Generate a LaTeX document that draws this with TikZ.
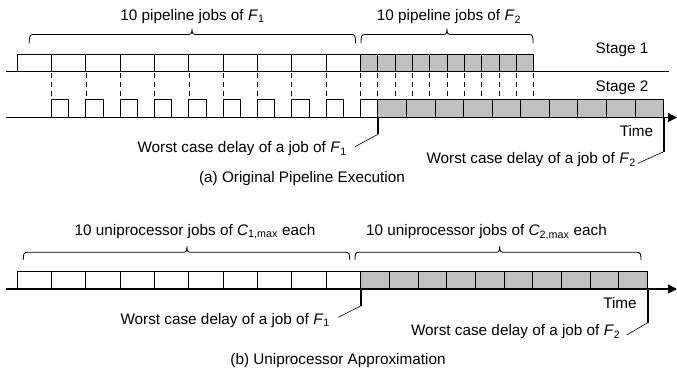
\documentclass[tikz,border=0pt]{standalone}
\usepackage{fontspec}
\setmainfont{Liberation Sans}
\usetikzlibrary{arrows.meta}
\definecolor{jobgray}{RGB}{192,192,192}

% curly brace: left end, middle, right end, tip y, line y, cusp y
\newcommand\jobbrace[6]{%
  \draw[bracepen] (#1,#4) .. controls (#1,#5+1.5) and (#1+0.5,#5) .. (#1+4,#5)
    -- (#2-4,#5) .. controls (#2-0.7,#5) and (#2,#5-1) .. (#2,#6)
    .. controls (#2,#5-1) and (#2+0.7,#5) .. (#2+4,#5)
    -- (#3-4,#5) .. controls (#3-0.5,#5) and (#3,#5+1.5) .. (#3,#4);}

\begin{document}
\begin{tikzpicture}[x=1pt,y=-1pt,
  lbl/.style={font=\fontsize{15.3}{18}\selectfont, inner sep=0pt},
  jobbox/.style={draw, line width=1pt},
  f2box/.style={jobbox, fill=jobgray},
  axis/.style={line width=1.1pt},
  timeaxis/.style={axis, -{Triangle[length=9pt,width=9pt]}},
  sync/.style={line width=0.9pt, dash pattern=on 5pt off 4pt, dash phase=-2pt},
  delay/.style={line width=2pt},
  leader/.style={line width=0.6pt},
  bracepen/.style={line width=0.8pt}]
\useasboundingbox (0,0) rectangle (677,374);

% ---------- (a) pipeline ----------
% stage 1
\foreach \i in {0,...,9}
  \draw[jobbox] ({17.3+34.33*\i},54.5) rectangle ++(34.33,17);
\foreach \i in {0,...,9}
  \draw[f2box] ({360.6+17.3*\i},54.5) rectangle ++(17.3,17);
% stage 2
\foreach \i in {1,...,10}
  \draw[jobbox] ({17.3+34.33*\i},100) rectangle ++(17.3,17.5);
\foreach \i in {0,...,9}
  \draw[f2box] ({377.9+28.57*\i},100) rectangle ++(28.57,17.5);
% hand-over from stage 1 to stage 2
\foreach \i in {1,...,10}
  \draw[sync] ({17.3+34.33*\i},71.5) -- ({17.3+34.33*\i},100);
\foreach \i in {1,...,10}
  \draw[sync] ({360.6+17.3*\i},71.5) -- ({360.6+17.3*\i},100);
% time lines
\coordinate (s1a) at (6,71.5);
\coordinate (s1b) at (669,71.5);
\coordinate (s2a) at (6,117.5);
\coordinate (s2b) at (677,117.5);
\draw[axis] (s1a) -- (s1b);
\draw[timeaxis] (s2a) -- (s2b);

\jobbrace{29.3}{192}{355.5}{43.3}{34.5}{28.5}
\jobbrace{361}{447}{533}{43.3}{34.5}{28.5}
\node[lbl, anchor=base] (pf1) at (192.5,20.5) {10 pipeline jobs of \textit{F}\textsubscript{1}};
\node[lbl, anchor=base] (pf2) at (449,20.5) {10 pipeline jobs of \textit{F}\textsubscript{2}};
\node[lbl, anchor=base] (st1) at (622,53.3) {Stage 1};
\node[lbl, anchor=base] (st2) at (622,91.7) {Stage 2};
\node[lbl, anchor=base] (ta) at (636.5,136.7) {Time};

\coordinate (da1t) at (377.9,117.5);
\coordinate (da1b) at (377.9,134.3);
\coordinate (da1l) at (355,146.7);
\draw[delay] (da1t) -- (da1b);
\draw[leader] (da1b) -- (da1l);
\node[lbl, anchor=base east] (wa1) at (347,153) {Worst case delay of a job of \textit{F}\textsubscript{1}};

\coordinate (da2t) at (663.6,117.5);
\coordinate (da2b) at (663.6,151.7);
\coordinate (da2l) at (638,163.3);
\draw[delay] (da2t) -- (da2b);
\draw[leader] (da2b) -- (da2l);
\node[lbl, anchor=base east] (wa2) at (636,164) {Worst case delay of a job of \textit{F}\textsubscript{2}};

\node[lbl, anchor=base] (capa) at (302,182.5) {(a) Original Pipeline Execution};

% ---------- (b) uniprocessor ----------
\foreach \i in {0,...,9}
  \draw[jobbox] ({17.3+34.33*\i},271.7) rectangle ++(34.33,17.3);
\foreach \i in {0,...,9}
  \draw[f2box] ({360.6+28.71*\i},271.7) rectangle ++(28.71,17.3);
\coordinate (ua) at (6,289);
\coordinate (ub) at (677,289);
\draw[timeaxis] (ua) -- (ub);

\jobbrace{23.3}{187}{349.7}{260}{252.3}{246}
\jobbrace{355}{499.7}{641}{260}{252.3}{246}
\node[lbl, anchor=base] (uc1) at (195,235.5) {10 uniprocessor jobs of \textit{C}\textsubscript{1,max} each};
\node[lbl, anchor=base] (uc2) at (486.5,235.5) {10 uniprocessor jobs of \textit{C}\textsubscript{2,max} each};
\node[lbl, anchor=base] (tb) at (620,308.3) {Time};

\coordinate (db1t) at (360.6,289);
\coordinate (db1b) at (360.6,306);
\coordinate (db1l) at (338.3,317.3);
\draw[delay] (db1t) -- (db1b);
\draw[leader] (db1b) -- (db1l);
\node[lbl, anchor=base east] (wb1) at (330,324) {Worst case delay of a job of \textit{F}\textsubscript{1}};

\coordinate (db2t) at (647.7,289);
\coordinate (db2b) at (647.7,322.7);
\coordinate (db2l) at (626.7,335);
\draw[delay] (db2t) -- (db2b);
\draw[leader] (db2b) -- (db2l);
\node[lbl, anchor=base east] (wb2) at (620.5,335.5) {Worst case delay of a job of \textit{F}\textsubscript{2}};

\node[lbl, anchor=base] (capb) at (338,364.5) {(b) Uniprocessor Approximation};
\end{tikzpicture}
\end{document}
